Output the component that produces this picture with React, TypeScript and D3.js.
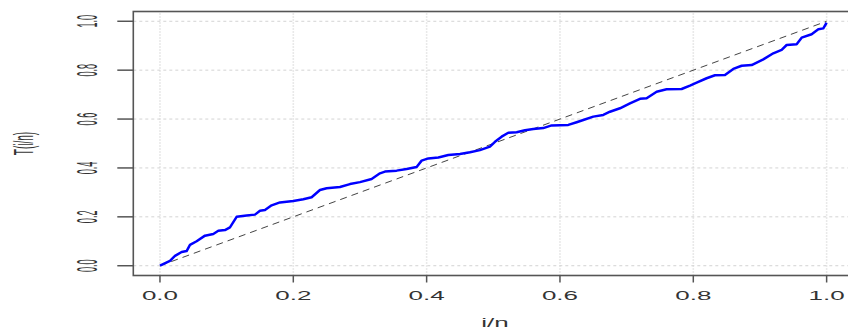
import React from "react";
import * as d3 from "d3";

// i/n values and the T(i/n) curve
const fraction = [
  0, 0.015, 0.0225, 0.0325, 0.04, 0.045, 0.055, 0.0675, 0.08, 0.0875, 0.0975,
  0.105, 0.115, 0.13, 0.1425, 0.15, 0.1575, 0.1675, 0.18, 0.2, 0.215, 0.2275,
  0.24, 0.25, 0.27, 0.285, 0.3, 0.3175, 0.33, 0.3375, 0.355, 0.37, 0.385,
  0.3925, 0.4025, 0.4175, 0.4325, 0.45, 0.465, 0.48, 0.495, 0.5025, 0.5125,
  0.5225, 0.535, 0.5475, 0.56, 0.575, 0.5875, 0.6125, 0.625, 0.635, 0.65,
  0.665, 0.675, 0.69, 0.705, 0.72, 0.73, 0.745, 0.76, 0.7825, 0.795, 0.805,
  0.82, 0.8325, 0.8475, 0.86, 0.8725, 0.8875, 0.905, 0.92, 0.9325, 0.94,
  0.955, 0.9625, 0.9775, 0.9875, 0.995, 1.0
];
const tValue = [
  0, 0.02, 0.04, 0.056, 0.06, 0.085, 0.1, 0.123, 0.13, 0.143, 0.146, 0.157,
  0.2, 0.205, 0.209, 0.225, 0.228, 0.247, 0.259, 0.265, 0.272, 0.28, 0.31,
  0.317, 0.322, 0.334, 0.342, 0.355, 0.378, 0.385, 0.389, 0.396, 0.404, 0.43,
  0.439, 0.443, 0.453, 0.457, 0.464, 0.473, 0.487, 0.507, 0.528, 0.544,
  0.546, 0.554, 0.559, 0.563, 0.574, 0.576, 0.587, 0.596, 0.61, 0.617, 0.63,
  0.644, 0.664, 0.683, 0.685, 0.712, 0.722, 0.723, 0.737, 0.749, 0.767,
  0.779, 0.78, 0.805, 0.818, 0.821, 0.844, 0.869, 0.883, 0.903, 0.906,
  0.933, 0.947, 0.967, 0.971, 0.994
];
const xTicks = [0, 0.2, 0.4, 0.6, 0.8, 1.0];
const yTicks = [0, 0.2, 0.4, 0.6, 0.8, 1.0];
const diagonal = [0, 1];

const width = 848;
const height = 328;
const font = "Liberation Sans, Arial, sans-serif";
const textColor = "#333";

export default function App() {
  const x = d3.scaleLinear().domain([-0.04, 1.04]).range([133.3, 853.3]);
  const y = d3.scaleLinear().domain([-0.04, 1.04]).range([275.5, 11.5]);

  const curve = d3
    .line<number>()
    .x((d, i) => x(fraction[i]))
    .y((d) => y(d));
  const diag = d3
    .line<number>()
    .x((d) => x(d))
    .y((d) => y(d));

  const [x0, x1] = x.range();
  const [y0, y1] = y.range();

  return (
    <svg
      width={width}
      height={height}
      style={{ position: "absolute", left: 0, top: 0, background: "#fff" }}
    >
      {/* grid */}
      {yTicks.map((t) => (
        <line
          key={"gy" + t}
          x1={x0}
          x2={x1}
          y1={y(t)}
          y2={y(t)}
          stroke="#d3d3d3"
          strokeWidth={1}
          strokeDasharray="3,3"
        />
      ))}
      {xTicks.map((t) => (
        <line
          key={"gx" + t}
          x1={x(t)}
          x2={x(t)}
          y1={y0}
          y2={y1}
          stroke="#d3d3d3"
          strokeWidth={1.6}
          strokeDasharray="1,2"
        />
      ))}

      {/* reference diagonal */}
      <path
        d={diag(diagonal) || ""}
        fill="none"
        stroke="#444"
        strokeWidth={1}
        strokeDasharray="7,5"
      />
      {/* T(i/n) */}
      <path
        d={curve(tValue) || ""}
        fill="none"
        stroke="#0000ff"
        strokeWidth={2.5}
        strokeLinejoin="round"
      />

      {/* box */}
      <rect
        x={x0}
        y={y1}
        width={x1 - x0}
        height={y0 - y1}
        fill="none"
        stroke="#555"
        strokeWidth={1.6}
      />

      {/* x axis */}
      {xTicks.map((t) => (
        <g key={"xt" + t}>
          <line x1={x(t)} x2={x(t)} y1={y0} y2={y0 + 7} stroke="#555" strokeWidth={1.5} />
          <text
            transform={`translate(${x(t)},300) scale(2,0.95)`}
            textAnchor="middle"
            fontFamily={font}
            fontSize={13}
            fill={textColor}
          >
            {t.toFixed(1)}
          </text>
        </g>
      ))}
      <text
        transform={`translate(495,326.5) scale(2,0.95)`}
        textAnchor="middle"
        fontFamily={font}
        fontSize={13}
        fill={textColor}
      >
        i/n
      </text>

      {/* y axis */}
      {yTicks.map((t) => (
        <g key={"yt" + t}>
          <line x1={x0} x2={x0 - 16} y1={y(t)} y2={y(t)} stroke="#555" strokeWidth={1.5} />
          <text
            transform={`translate(96.5,${y(t)}) scale(2.2,0.7) rotate(-90)`}
            textAnchor="middle"
            fontFamily={font}
            fontSize={13}
            fill={textColor}
          >
            {t.toFixed(1)}
          </text>
        </g>
      ))}
      <text
        transform={`translate(33,143.5) scale(2.1,0.77) rotate(-90)`}
        textAnchor="middle"
        fontFamily={font}
        fontSize={13}
        fill={textColor}
      >
        T(i/n)
      </text>
    </svg>
  );
}
